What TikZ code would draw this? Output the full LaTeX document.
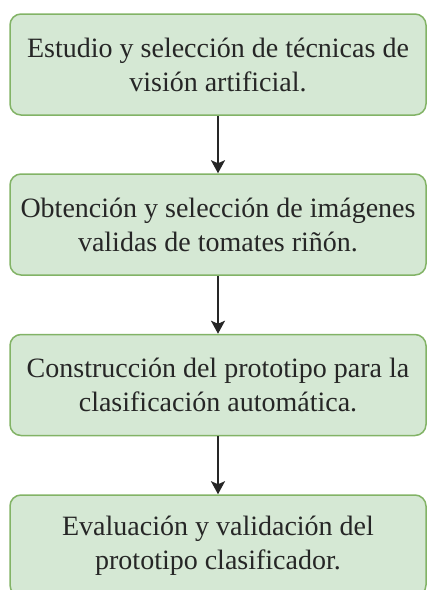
\documentclass[tikz,border=0pt]{standalone}
\usepackage{fontspec}
\setmainfont{Liberation Serif}
\usetikzlibrary{arrows.meta}
\definecolor{pasofondo}{HTML}{D5E8D4}
\definecolor{pasoborde}{HTML}{82B366}
\tikzset{
	paso/.style={draw=pasoborde, fill=pasofondo, line width=1.5pt, rounded corners=11pt,
		minimum width=416pt, minimum height=101pt, align=center, text=black!85,
		font=\fontsize{28}{34}\selectfont},
	flecha/.style={-{Stealth[length=13pt,width=14pt,inset=3pt]}, line width=2pt, black!85}
}

\begin{document}
\begin{tikzpicture}[x=1pt,y=-1pt]
	\useasboundingbox (0,0) rectangle (428,590);
	\node[paso] (estudio) at (218, 64.5) {Estudio y selección de técnicas de\\visión artificial.};
	\node[paso] (obtencion) at (218, 224.5) {Obtención y selección de imágenes\\validas de tomates riñón.};
	\node[paso] (construccion) at (218, 385) {Construcción del prototipo para la\\clasificación automática.};
	\node[paso] (evaluacion) at (218, 545.5) {Evaluación y validación del\\prototipo clasificador.};
	\draw[flecha] (estudio) -- (obtencion);
	\draw[flecha] (obtencion) -- (construccion);
	\draw[flecha] (construccion) -- (evaluacion);
\end{tikzpicture}
\end{document}
